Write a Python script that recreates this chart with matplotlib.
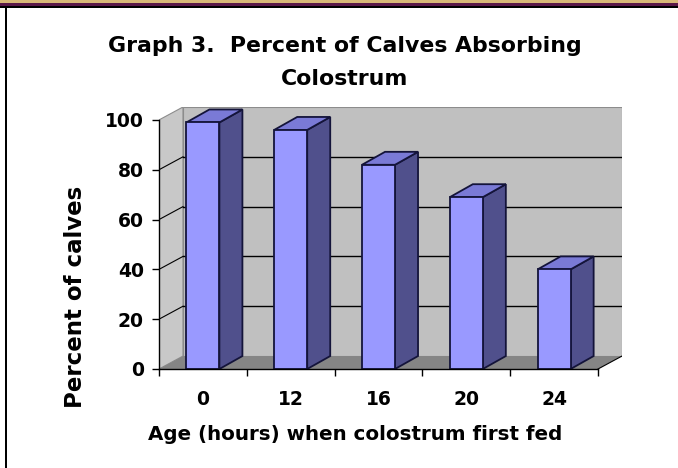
import numpy as np
import matplotlib
matplotlib.use("Agg")
from matplotlib import pyplot as plt
from matplotlib.patches import Polygon, Rectangle

# data
hours = ["0", "12", "16", "20", "24"]
percent = [99, 96, 82, 69, 40]
yticks = [0, 20, 40, 60, 80, 100]

title_1 = "Graph 3.  Percent of Calves Absorbing"
title_2 = "Colostrum"
xlabel = "Age (hours) when colostrum first fed"
ylabel = "Percent of calves"

# 3d look (in data units)
dx, dy = 0.273, 5.2       # depth of walls
bdx, bdy = 0.262, 5.2     # depth of bars
bw = 0.376                # bar width

front_c = "#9999ff"
side_c = "#50508c"
top_c = "#7a7ad6"
wall_c = "#c0c0c0"
side_wall_c = "#c8c8c8"
floor_c = "#858585"
edge_c = "#14143a"

plt.rcParams["font.family"] = ["DejaVu Sans"]
plt.rcParams["font.weight"] = "bold"

fig = plt.figure(figsize=(6.78, 4.68), dpi=100)
fig.patch.set_facecolor("white")

W, H = 678, 468
ax = fig.add_axes([159 / W, (H - 369) / H, (622 - 159) / W, (369 - 107) / H])
n = len(hours)
x = np.arange(n)
ax.set_xlim(-0.5, n - 0.5 + dx)
ax.set_ylim(0, 100 + dy)
ax.patch.set_visible(False)

# walls and floor
x0, x1 = -0.5, n - 0.5
ax.add_patch(Polygon([(x0 + dx, dy), (x1 + dx, dy), (x1 + dx, 100 + dy), (x0 + dx, 100 + dy)],
                     closed=True, fc=wall_c, ec="#8c8c8c", lw=0.8, zorder=1))
ax.add_patch(Polygon([(x0, 0), (x0 + dx, dy), (x0 + dx, 100 + dy), (x0, 100)],
                     closed=True, fc=side_wall_c, ec="#8c8c8c", lw=0.8, zorder=1))
ax.add_patch(Polygon([(x0, 0), (x1, 0), (x1 + dx, dy), (x0 + dx, dy)],
                     closed=True, fc=floor_c, ec="none", lw=0, zorder=1))
ax.plot([x1, x1 + dx], [0, dy], color="black", lw=0.8, zorder=2)

# gridlines on back wall and side wall
for v in yticks[1:-1]:
    ax.plot([x0 + dx, x1 + dx], [v + dy, v + dy], color="black", lw=1.0, zorder=2)
    ax.plot([x0, x0 + dx], [v, v + dy], color="black", lw=0.8, zorder=2)

# bars
for xi, v in zip(x, percent):
    l, r = xi - bw / 2, xi + bw / 2
    ax.add_patch(Polygon([(r, 0), (r + bdx, bdy), (r + bdx, v + bdy), (r, v)],
                         closed=True, fc=side_c, ec=edge_c, lw=1.3, zorder=3))
    ax.add_patch(Polygon([(l, v), (r, v), (r + bdx, v + bdy), (l + bdx, v + bdy)],
                         closed=True, fc=top_c, ec=edge_c, lw=1.3, zorder=3))
    ax.add_patch(Rectangle((l, 0), bw, v, fc=front_c, ec=edge_c, lw=1.3, zorder=4))

# axes
for s in ["top", "right"]:
    ax.spines[s].set_visible(False)
ax.spines["left"].set_bounds(0, 100)
ax.spines["bottom"].set_bounds(x0, x1)
for s in ["left", "bottom"]:
    ax.spines[s].set_color("black")
    ax.spines[s].set_linewidth(1.0)
    ax.spines[s].set_zorder(5)

ax.set_yticks(yticks)
ax.set_yticklabels([str(t) for t in yticks], fontsize=13.5, fontweight="bold")
ax.tick_params(axis="y", direction="out", length=5, width=1, pad=6)

ax.set_xticks(np.arange(n + 1) - 0.5)
ax.set_xticklabels([])
ax.set_xticks(x, minor=True)
ax.set_xticklabels(hours, minor=True, fontsize=13.5, fontweight="bold")
ax.tick_params(axis="x", which="major", direction="out", length=5, width=1)
ax.tick_params(axis="x", which="minor", length=0, pad=15)

# texts
fig.text(345 / W, 1 - 52 / H, title_1, ha="center", va="baseline", fontsize=15.8, fontweight="bold")
fig.text(345 / W, 1 - 85 / H, title_2, ha="center", va="baseline", fontsize=15.8, fontweight="bold")
fig.text(355 / W, 1 - 440 / H, xlabel, ha="center", va="baseline", fontsize=14.3, fontweight="bold")
fig.text(76 / W, 1 - 297 / H, ylabel, ha="center", va="center", rotation=90,
         fontsize=16.5, fontweight="bold")

# frame of the screenshot
fig.patches.append(Rectangle((0, 1 - 3 / H), 1, 3 / H, transform=fig.transFigure,
                             fc="#d8b878", ec="none", zorder=10))
fig.patches.append(Rectangle((0, 1 - 6 / H), 1, 3 / H, transform=fig.transFigure,
                             fc="#5a1848", ec="none", zorder=10))
fig.patches.append(Rectangle((0, 1 - 7.5 / H), 1, 1.5 / H, transform=fig.transFigure,
                             fc="black", ec="none", zorder=10))
fig.patches.append(Rectangle((5 / W, 0), 2 / W, 1 - 6 / H, transform=fig.transFigure,
                             fc="black", ec="none", zorder=10))

fig.savefig("out.png", dpi=100, facecolor="white")
